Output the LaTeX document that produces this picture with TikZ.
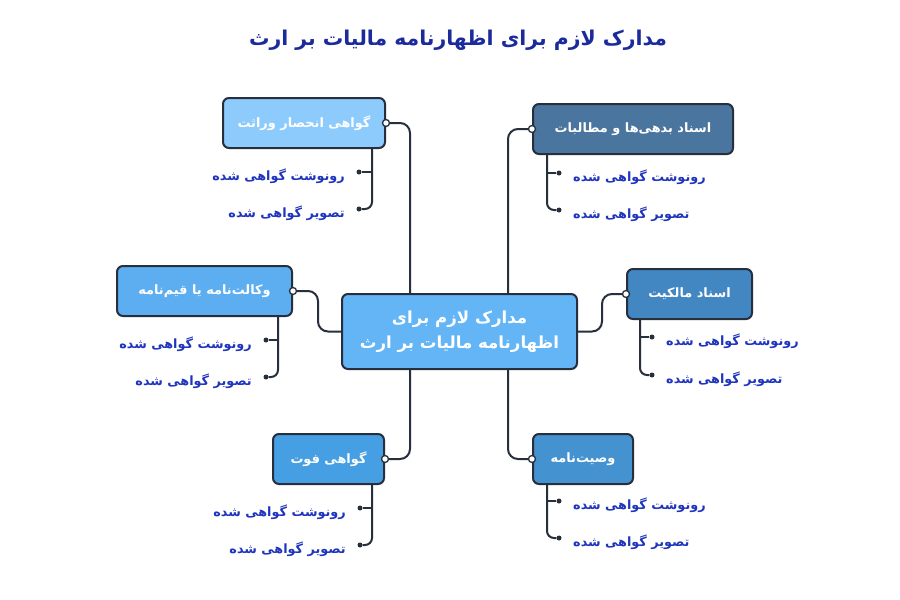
\documentclass[tikz,border=0pt]{standalone}
\usepackage{fontspec}
\usepackage{tikz}
\usetikzlibrary{calc}
\usetikzlibrary{positioning}
\TeXXeTstate=1
\newfontfamily\arabicfont[Script=Arabic]{DejaVu Sans}
\definecolor{cline}{HTML}{272F3D}
\definecolor{ctitle}{HTML}{1B2B9B}
\definecolor{csub}{HTML}{1F35BD}
\definecolor{croot}{HTML}{63B5F5}
\definecolor{cinh}{HTML}{8DCBFD}
\definecolor{cdebt}{HTML}{4A759E}
\definecolor{cpoa}{HTML}{5DAEF0}
\definecolor{cdeed}{HTML}{4286C2}
\definecolor{cdeath}{HTML}{479FE3}
\definecolor{cwill}{HTML}{4592D0}
\def\txtcopy{رونوشت گواهی شده}
\def\txtimage{تصویر گواهی شده}

\begin{document}
\begin{tikzpicture}[x=1pt, y=-1pt,
    box/.style={draw=cline, line width=2pt, rounded corners=6pt, text=white, minimum height=50pt, inner sep=0pt,
      font=\arabicfont\bfseries\fontsize{12.9}{15}\selectfont},
    link/.style={draw=cline, line width=2pt, rounded corners=10pt},
    port/.style={circle, draw=cline, fill=white, line width=1.3pt, inner sep=0pt, minimum size=7pt},
    dot/.style={circle, fill=cline, inner sep=0pt, minimum size=5pt},
    subtext/.style={text=csub, inner sep=0pt, font=\arabicfont\bfseries\fontsize{12.8}{16}\selectfont}]

  \fill [white] (0,0) rectangle (900,600);

  % title
  \node [text=ctitle, font=\arabicfont\bfseries\fontsize{20.4}{24}\selectfont] (title) at (458,40)
    {\beginR مدارک لازم برای اظهارنامه مالیات بر ارث\endR};

  % central box
  \node [box, fill=croot, minimum width=235pt, minimum height=75pt, align=center,
    font=\arabicfont\bfseries\fontsize{16.6}{25}\selectfont] (root) at (459.5,331.5)
    {\beginR مدارک لازم برای\endR\\\beginR اظهارنامه مالیات بر ارث\endR};

  % branch boxes
  \node [box, fill=cinh, minimum width=162pt] (inh) at (304,123) {\beginR گواهی انحصار وراثت\endR};
  \node [box, fill=cdebt, minimum width=200pt] (debt) at (633,129) {\beginR اسناد بدهی^^^^200cها و مطالبات\endR};
  \node [box, fill=cpoa, minimum width=175pt] (poa) at (204.5,291) {\beginR وکالت^^^^200cنامه یا قیم^^^^200cنامه\endR};
  \node [box, fill=cdeed, minimum width=125pt] (deed) at (689.5,294) {\beginR اسناد مالکیت\endR};
  \node [box, fill=cdeath, minimum width=111pt] (death) at (328.5,459) {\beginR گواهی فوت\endR};
  \node [box, fill=cwill, minimum width=100pt] (will) at (583,459) {\beginR وصیت^^^^200cنامه\endR};

  % links to central box
  \draw [link] (inh.east) -| ($(root.north)+(-49.5,0)$);
  \draw [link] (debt.west) -| ($(root.north)+(48.5,0)$);
  \draw [link] (poa.east) -- ++(25,0) |- (root.west);
  \draw [link] (deed.west) -- ++(-24,0) |- (root.east);
  \draw [link] (death.east) -| ($(root.south)+(-49.5,0)$);
  \draw [link] (will.west) -| ($(root.south)+(48.5,0)$);
  \foreach \b/\s in {inh/east, debt/west, poa/east, deed/west, death/east, will/west}
    \node [port] (\b p) at (\b.\s) {};

  % sub items
  \foreach \b/\vx/\top/\dx/\ya/\yb/\tx/\anc in {
      inh/372/148/-13/172/209/-14/east,
      debt/547/154/12/173/210/14/west,
      poa/278/316/-12/340/377/-14/east,
      deed/640/319/12/337/375/14/west,
      death/372/484/-12/508/545/-14/east,
      will/547/484/12/501/538/14/west}
  {
    \coordinate (\b0) at (\vx,\top);
    \node [dot] (\b1) at (\vx+\dx,\ya) {};
    \node [dot] (\b2) at (\vx+\dx,\yb) {};
    \draw [link, rounded corners=7pt] (\b0) |- (\b2);
    \draw [link] (\b1) -- (\b1 -| \b0);
    \node [subtext, anchor=\anc] (\b1t) at ($(\b1)+(\tx,4)$) {\beginR\txtcopy\endR};
    \node [subtext, anchor=\anc] (\b2t) at ($(\b2)+(\tx,4)$) {\beginR\txtimage\endR};
  }
\end{tikzpicture}
\end{document}
